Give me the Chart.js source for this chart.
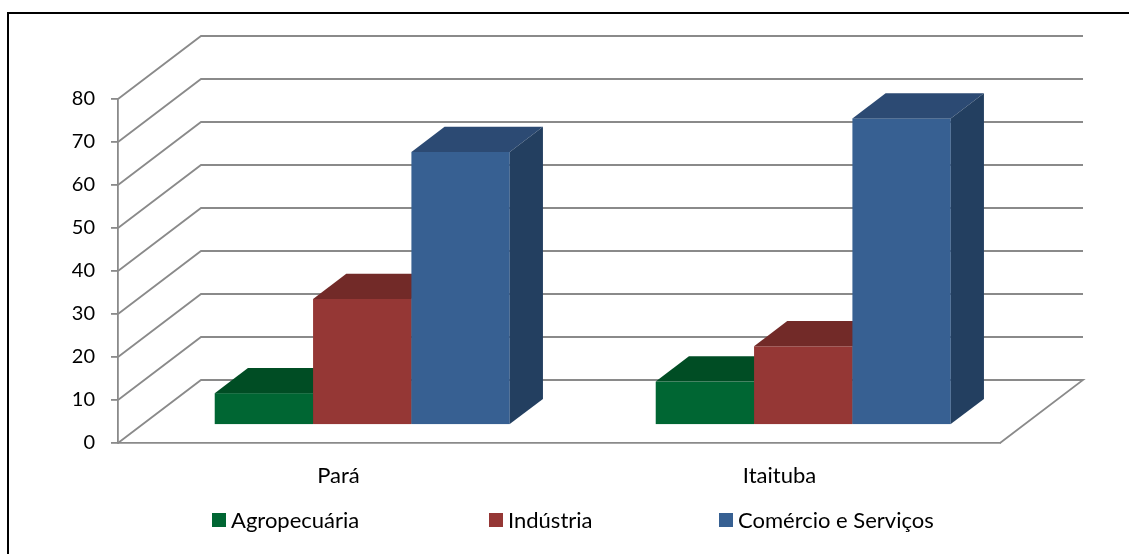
<!DOCTYPE html>
<html lang="pt">
<head>
    <meta charset="utf-8" />
    <title>Setores</title>
    <script src="https://cdn.jsdelivr.net/npm/chart.js@4.4.1/dist/chart.umd.min.js"></script>
    <style>
        body { margin: 0; background: #fff; }
        #frame { position: absolute; left: 7px; top: 12px; width: 1200px; height: 600px;
                 border-left: 2px solid #000; border-top: 2px solid #000; }
        #chart { position: absolute; left: 0; top: 0; }
    </style>
</head>
<body>
    <div id="frame"></div>
    <canvas id="chart" width="1129" height="554"></canvas>
    <script>
        // dados
        const categories = ['Pará', 'Itaituba'];
        const seriesNames = ['Agropecuária', 'Indústria', 'Comércio e Serviços'];
        const agropecuaria = [7.4, 10.1];
        const industria = [29.3, 18.3];
        const comercio = [63.5, 71.3];
        const yTicks = [0, 10, 20, 30, 40, 50, 60, 70, 80];

        // cores: frente, topo, lateral
        const frontColors = ['#006633', '#953735', '#376092'];
        const topColors = ['#004d24', '#722a28', '#2c4a73'];
        const sideColors = ['#003d1d', '#5e2220', '#233f60'];

        const FONT = 'Lato, "Open Sans", sans-serif';
        const depthX = 83, depthY = -63;      // deslocamento da parede do fundo
        const barOffset = 0.286, barDepth = 0.4;
        const legendX = [212, 489, 719];

        const threeD = {
            id: 'threeD',
            beforeDatasetsDraw(chart) {
                const ctx = chart.ctx, a = chart.chartArea;
                const y = chart.scales.y;
                ctx.save();
                ctx.strokeStyle = '#8a8a8a';
                ctx.lineWidth = 1.8;
                y.ticks.forEach(function (t) {
                    const py = y.getPixelForValue(t.value);
                    ctx.beginPath();
                    ctx.moveTo(a.left, py);
                    ctx.lineTo(a.left + depthX, py + depthY);
                    ctx.lineTo(a.right + depthX, py + depthY);
                    if (t.value === 0) ctx.lineTo(a.right, py);
                    ctx.stroke();
                });

                const ox = depthX * barOffset, oy = depthY * barOffset;
                const dx = depthX * barDepth, dy = depthY * barDepth;
                for (let i = 0; i < categories.length; i++) {
                    chart.data.datasets.forEach(function (ds, j) {
                        const el = chart.getDatasetMeta(j).data[i];
                        const half = el.width / 2;
                        const l = el.x - half + ox, r = el.x + half + ox;
                        const t = el.y + oy, b = el.base + oy;
                        ctx.fillStyle = frontColors[j];
                        ctx.fillRect(l, t, r - l, b - t);
                        ctx.fillStyle = topColors[j];
                        ctx.beginPath();
                        ctx.moveTo(l, t); ctx.lineTo(l + dx, t + dy);
                        ctx.lineTo(r + dx, t + dy); ctx.lineTo(r, t);
                        ctx.closePath(); ctx.fill();
                        ctx.fillStyle = sideColors[j];
                        ctx.beginPath();
                        ctx.moveTo(r, t); ctx.lineTo(r + dx, t + dy);
                        ctx.lineTo(r + dx, b + dy); ctx.lineTo(r, b);
                        ctx.closePath(); ctx.fill();
                    });
                }
                ctx.restore();
                return false;
            },
            afterDraw(chart) {
                // legenda
                const ctx = chart.ctx;
                ctx.save();
                ctx.font = '22px ' + FONT;
                ctx.textBaseline = 'middle';
                const ly = 520;
                seriesNames.forEach(function (name, j) {
                    const x = legendX[j];
                    ctx.fillStyle = frontColors[j];
                    ctx.fillRect(x, ly - 7, 14, 14);
                    ctx.fillStyle = '#000';
                    ctx.fillText(name, x + 19, ly + 1);
                });
                ctx.restore();
            }
        };

        new Chart(document.getElementById('chart'), {
            type: 'bar',
            data: {
                labels: categories,
                datasets: [
                    { label: seriesNames[0], data: agropecuaria, backgroundColor: frontColors[0] },
                    { label: seriesNames[1], data: industria, backgroundColor: frontColors[1] },
                    { label: seriesNames[2], data: comercio, backgroundColor: frontColors[2] }
                ]
            },
            options: {
                responsive: false,
                animation: false,
                categoryPercentage: 0.669,
                barPercentage: 1,
                layout: { padding: { left: 0, right: 129, top: 99, bottom: 51 } },
                plugins: { legend: { display: false }, tooltip: { enabled: false } },
                scales: {
                    x: {
                        grid: { display: false },
                        border: { color: '#8a8a8a', width: 1.8 },
                        ticks: { color: '#000', padding: 12, font: { family: FONT, size: 22 } },
                        afterFit: function (s) { s.height = 60; }
                    },
                    y: {
                        min: 0, max: 80,
                        afterBuildTicks: function (s) { s.ticks = yTicks.map(v => ({ value: v })); },
                        grid: { drawOnChartArea: false, drawTicks: true, tickLength: 7, color: '#8a8a8a', lineWidth: 1.8 },
                        border: { color: '#8a8a8a', width: 1.8 },
                        ticks: { color: '#000', padding: 16, font: { family: FONT, size: 20 } },
                        afterFit: function (s) { s.width = 118; }
                    }
                }
            },
            plugins: [threeD]
        });
    </script>
</body>
</html>
